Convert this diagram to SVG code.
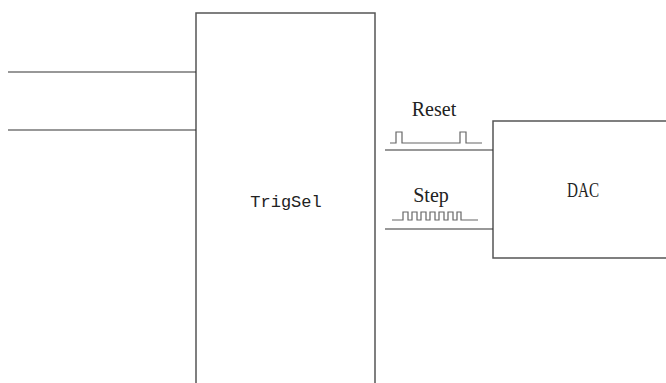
<svg xmlns="http://www.w3.org/2000/svg" width="666" height="383" viewBox="0 0 666 383">
<style>
.box{fill:#fff;stroke:#555;stroke-width:1.5}
.wire{stroke:#333;stroke-width:1.2;fill:none}
.wave{stroke:#666;stroke-width:1.2;fill:none}
.lbl{font-family:"Liberation Serif",serif;font-size:20px;fill:#222}
.mono{font-family:"Liberation Mono",monospace;font-size:17px;fill:#222}
</style>
<rect width="666" height="383" fill="#fff"/>
<g id="TrigSel">
<path class="box" d="M196,390 V13 H375 V390"/>
<text class="mono" x="286" y="207" text-anchor="middle">TrigSel</text>
</g>
<g id="DAC">
<path class="box" d="M680,121 H493 V258 H680"/>
<text class="lbl" x="567" y="197" textLength="32" lengthAdjust="spacingAndGlyphs">DAC</text>
</g>
<g id="connectors">
<line class="wire" x1="8" y1="72" x2="196" y2="72"/>
<line class="wire" x1="8" y1="130" x2="196" y2="130"/>
<line class="wire" x1="385" y1="150" x2="493" y2="150"/>
<line class="wire" x1="385" y1="229" x2="493" y2="229"/>
</g>
<g id="ResetSignal">
<text class="lbl" x="434" y="116" text-anchor="middle">Reset</text>
<path class="wave" d="M390,143 H396 V132 H402 V143 H460 V132 H466 V143 H482"/>
</g>
<g id="StepSignal">
<text class="lbl" x="431" y="202" text-anchor="middle">Step</text>
<path class="wave" d="M392,220 H403 V212 H408 V220 H412 V212 H417 V220 H421 V212 H426 V220 H430 V212 H435 V220 H439 V212 H444 V220 H448 V212 H453 V220 H457 V212 H461 V220 H478"/>
</g>
</svg>
